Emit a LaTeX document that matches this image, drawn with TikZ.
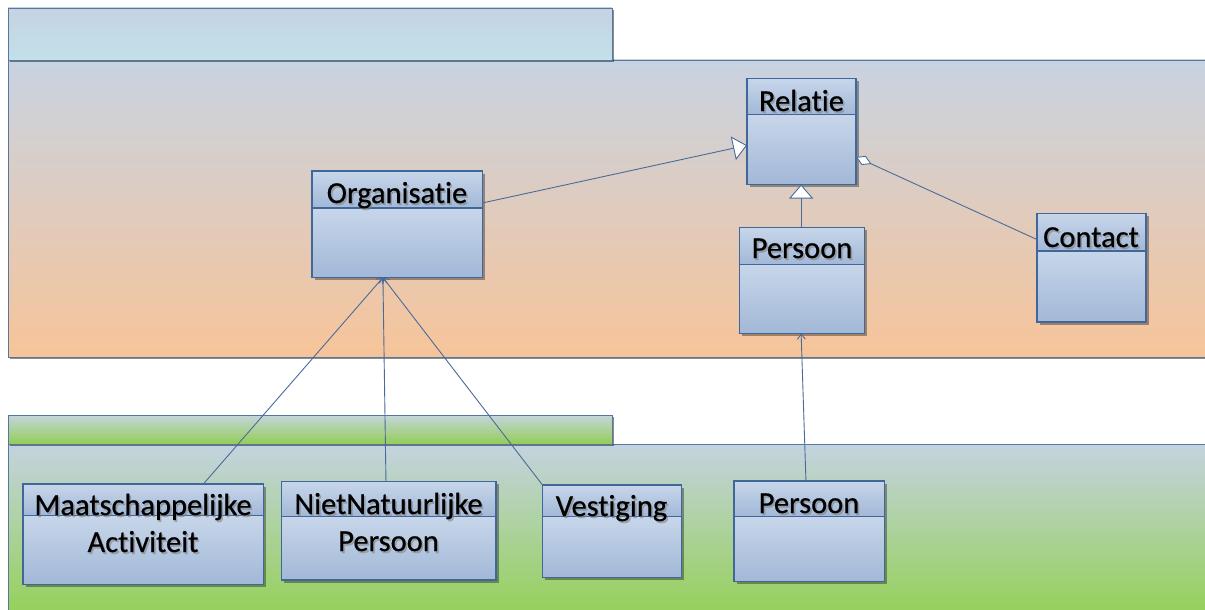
\documentclass[tikz,border=0pt]{standalone}
\usepackage{fontspec}
\setmainfont{Carlito}[Ligatures=NoCommon]
\newfontfamily\labelfont{Carlito}[FakeBold=0.5, Ligatures=NoCommon]
\usetikzlibrary{arrows.meta,shadows,calc,fit}

\definecolor{edge}{HTML}{41679A}
\definecolor{linkc}{HTML}{4A6B99}
\definecolor{boxtop}{HTML}{C7D6EA}
\definecolor{boxbot}{HTML}{A2B8D7}
\definecolor{tabtop}{HTML}{C5D2E3}
\definecolor{tabbot}{HTML}{C2E1EA}
\definecolor{uppertop}{HTML}{C8D3E2}
\definecolor{upperbot}{HTML}{F7C499}
\definecolor{gtabtop}{HTML}{C4D5DC}
\definecolor{gtabbot}{HTML}{92CE57}
\definecolor{lowertop}{HTML}{C4D3E0}
\definecolor{lowerbot}{HTML}{92D050}
\definecolor{paneledge}{HTML}{56779F}

% one UML class: name, x1, y1, x2, y2, y of the compartment line
\newcommand\umlclass[6]{%
  \path[boxshadow, fill=boxbot] (#2,#3) rectangle (#4,#5);
  \shade[top color=boxtop, bottom color=boxbot] (#2,#3) rectangle (#4,#6);
  \shade[top color=boxtop, bottom color=boxbot] (#2,#6) rectangle (#4,#5);
  \draw[boxedge] (#2,#6) -- (#4,#6);
  \node[boxedge, draw, inner sep=0pt, outer sep=0pt, fit={(#2,#3) (#4,#5)}] (#1) {};
}
% class name with its soft shadow: name, x, baseline y (last line), text
\newcommand\classlabel[4]{%
  \node[labelshade] (#1-shade) at (#2+1.6,#3+2) {#4};
  \node[labeltext] (#1) at (#2,#3) {#4};
}

\begin{document}
\begin{tikzpicture}[x=1pt, y=-1pt,
  boxedge/.style={draw=edge, line width=1.1pt},
  boxshadow/.style={drop shadow={shadow xshift=2.5pt, shadow yshift=-2.5pt, fill=black, opacity=0.35}},
  panelshadow/.style={drop shadow={shadow xshift=2pt, shadow yshift=-2pt, fill=black, opacity=0.45}},
  labeltext/.style={anchor=base, align=center, inner sep=0pt, text=black,
    font=\labelfont\fontsize{30.5}{37}\selectfont},
  labelshade/.style={labeltext, text=black!50, opacity=0.55},
  link/.style={draw=linkc, line width=0.9pt, line join=miter},
  general/.style={link, -{Triangle[length=14pt, width=24pt, fill=white]}},
  dep/.style={link, -{Straight Barb[length=5pt, width=8pt]}},
  aggr/.style={link, {Diamond[length=17pt, width=10pt, fill=white]}-}
]
\useasboundingbox (0,0) rectangle (1205,610);
\fill[white] (0,0) rectangle (1205,610);

% upper package
\path[panelshadow, top color=uppertop, bottom color=upperbot, draw=paneledge, line width=0.8pt]
  (8,60) rectangle (1220,357);
\path[panelshadow, top color=tabtop, bottom color=tabbot, draw=paneledge, line width=0.8pt]
  (8,8) rectangle (612,60);

% lower package
\path[panelshadow, top color=lowertop, bottom color=lowerbot, draw=paneledge, line width=0.8pt]
  (8,444) rectangle (1220,625);
\path[panelshadow, top color=gtabtop, bottom color=gtabbot, draw=paneledge, line width=0.8pt]
  (8,415) rectangle (612,444);

% classes
\umlclass{relatie}{747}{78.5}{856}{184.5}{114.5}
\umlclass{organisatie}{312}{171}{482.5}{277.5}{208}
\umlclass{persoonA}{739.5}{227.5}{864.5}{333.5}{264.5}
\umlclass{contact}{1037}{213.5}{1146}{322}{251}
\umlclass{maatschappelijk}{23}{484}{263.5}{584.5}{515.5}
\umlclass{nietnatuurlijk}{281.5}{481.5}{496}{580}{516.5}
\umlclass{vestiging}{542.5}{485}{681.5}{577.5}{516.5}
\umlclass{persoonB}{734}{481}{884.5}{581.5}{516.5}

\classlabel{relatie-name}{801.5}{111}{Relatie}
\classlabel{organisatie-name}{397}{203}{Organisatie}
\classlabel{persoonA-name}{802}{258}{Persoon}
\classlabel{contact-name}{1091}{247}{Contact}
\classlabel{maatschappelijk-name}{143}{552}{Maatschappelijke\\Activiteit}
\classlabel{nietnatuurlijk-name}{388.5}{551}{NietNatuurlijke\\Persoon}
\classlabel{vestiging-name}{611.5}{516}{Vestiging}
\classlabel{persoonB-name}{809}{513}{Persoon}

% attachment points
\coordinate (orgfoot) at ($(organisatie.south west)!0.416!(organisatie.south east)$);
\coordinate (orgside) at ($(organisatie.north east)!0.3!(organisatie.south east)$);
\coordinate (relleft) at ($(relatie.north west)!0.63!(relatie.south west)$);
\coordinate (relright) at ($(relatie.north east)!0.74!(relatie.south east)$);
\coordinate (contactside) at ($(contact.north west)!0.24!(contact.south west)$);
\coordinate (maatstop) at ($(maatschappelijk.north west)!0.75!(maatschappelijk.north east)$);
\coordinate (niettop) at ($(nietnatuurlijk.north west)!0.487!(nietnatuurlijk.north east)$);
\coordinate (persBtop) at ($(persoonB.north west)!0.478!(persoonB.north east)$);
\coordinate (persAfoot) at ($(persoonA.south west)!0.493!(persoonA.south east)$);
\coordinate (persAtop) at ($(persoonA.north west)!0.493!(persoonA.north east)$);
\coordinate (relfoot) at (persAtop |- relatie.south);

% relations
\draw[general] (orgside) -- (relleft);
\draw[general] (persAtop) -- (relfoot);
\draw[aggr] (relright) -- (contactside);
\draw[dep] (maatstop) -- (orgfoot);
\draw[dep] (niettop) -- (orgfoot);
\draw[dep] (vestiging.north west) -- (orgfoot);
\draw[dep] (persBtop) -- (persAfoot);
\end{tikzpicture}
\end{document}
